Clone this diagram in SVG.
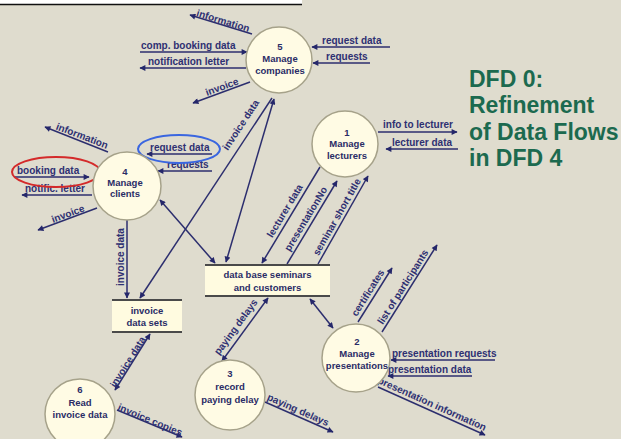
<svg xmlns="http://www.w3.org/2000/svg" width="621" height="439" viewBox="0 0 621 439">
  <style>
    .bg { fill: #dfdcce; }
    .proc circle { fill: #fffbe4; stroke: #a6a28a; stroke-width: 1.5; }
    .proc text, .store text { font-family: "Liberation Sans", Arial, sans-serif; font-weight: bold; font-size: 9.5px; fill: #2a2c66; text-anchor: middle; }
    .store rect { fill: #fffbe0; stroke: none; }
    .store line { stroke: #4a4a4a; stroke-width: 2; }
    .flow line { stroke: #2c2e6e; stroke-width: 1.5; }
    .lbl { font-family: "Liberation Sans", Arial, sans-serif; font-weight: bold; font-size: 10px; fill: #2e3072; }
    .dl { text-anchor: middle; }
    .title { font-family: "Liberation Sans", Arial, sans-serif; font-weight: bold; font-size: 23px; fill: #1c6a4f; }
  </style>
  <defs>
    <marker id="ah" viewBox="0 0 10 10" refX="9" refY="5" markerWidth="8" markerHeight="6" markerUnits="userSpaceOnUse" orient="auto-start-reverse">
      <path d="M0,0 L10,5 L0,10 z" fill="#25276a"/>
    </marker>
  </defs>

  <rect class="bg" x="0" y="0" width="621" height="439"/>
  <!-- header strip -->
  <rect x="0" y="0" width="302" height="4" fill="#ffffff"/>
  <line x1="0" y1="4.5" x2="302" y2="4.5" stroke="#111" stroke-width="1.5"/>

  <!-- title -->
  <g id="title" class="title">
    <text x="469" y="87">DFD 0:</text>
    <text x="469" y="113">Refinement</text>
    <text x="469" y="140">of Data Flows</text>
    <text x="469" y="166">in DFD 4</text>
  </g>

  <!-- data flows -->
  <g id="connectors" class="flow">
    <!-- process 5 -->
    <line x1="252" y1="34" x2="190" y2="15" marker-end="url(#ah)"/>
    <line x1="140" y1="52" x2="247" y2="52" marker-end="url(#ah)"/>
    <line x1="246" y1="68" x2="140" y2="68" marker-end="url(#ah)"/>
    <line x1="250" y1="82" x2="193" y2="103" marker-end="url(#ah)"/>
    <line x1="390" y1="47" x2="312" y2="47" marker-end="url(#ah)"/>
    <line x1="370" y1="63" x2="313" y2="63" marker-end="url(#ah)"/>
    <line x1="226" y1="262" x2="274" y2="99" marker-start="url(#ah)" marker-end="url(#ah)"/>
    <line x1="272" y1="98" x2="140" y2="298" marker-end="url(#ah)"/>
    <!-- process 4 -->
    <line x1="108" y1="152" x2="45" y2="127" marker-end="url(#ah)"/>
    <line x1="14" y1="177" x2="89" y2="177" marker-end="url(#ah)"/>
    <line x1="92" y1="195" x2="22" y2="195" marker-end="url(#ah)"/>
    <line x1="97" y1="208" x2="38" y2="230" marker-end="url(#ah)"/>
    <line x1="212" y1="154" x2="147" y2="154" marker-end="url(#ah)"/>
    <line x1="212" y1="171" x2="158" y2="171" marker-end="url(#ah)"/>
    <line x1="127" y1="220" x2="127" y2="298" marker-end="url(#ah)"/>
    <line x1="160" y1="200" x2="215" y2="263" marker-start="url(#ah)" marker-end="url(#ah)"/>
    <!-- process 1 -->
    <line x1="378" y1="132" x2="457" y2="132" marker-end="url(#ah)"/>
    <line x1="458" y1="149" x2="386" y2="149" marker-end="url(#ah)"/>
    <line x1="320" y1="167" x2="262" y2="263" marker-end="url(#ah)"/>
    <line x1="287" y1="264" x2="337" y2="181" marker-end="url(#ah)"/>
    <line x1="318" y1="264" x2="368" y2="176" marker-end="url(#ah)"/>
    <!-- process 2 -->
    <line x1="310" y1="299" x2="333" y2="328" marker-start="url(#ah)" marker-end="url(#ah)"/>
    <line x1="358" y1="322" x2="392" y2="268" marker-end="url(#ah)"/>
    <line x1="382" y1="332" x2="437" y2="245" marker-end="url(#ah)"/>
    <line x1="495" y1="360" x2="391" y2="360" marker-end="url(#ah)"/>
    <line x1="472" y1="376" x2="388" y2="376" marker-end="url(#ah)"/>
    <line x1="378" y1="387" x2="485" y2="435" marker-end="url(#ah)"/>
    <!-- process 3 -->
    <line x1="268" y1="298" x2="222" y2="361" marker-start="url(#ah)" marker-end="url(#ah)"/>
    <line x1="265" y1="402" x2="333" y2="432" marker-end="url(#ah)"/>
    <!-- process 6 -->
    <line x1="150" y1="334" x2="115" y2="390" marker-start="url(#ah)" marker-end="url(#ah)"/>
    <line x1="117" y1="410" x2="182" y2="437" marker-end="url(#ah)"/>
  </g>

  <!-- flow labels -->
  <g id="flow-labels" class="lbl">
    <text class="dl" transform="translate(223,21) rotate(17)" y="3.2">information</text>
    <text x="141" y="49">comp. booking data</text>
    <text x="148" y="65">notification letter</text>
    <text class="dl" transform="translate(222,87) rotate(-20)" y="3.2">invoice</text>
    <text x="322" y="44">request data</text>
    <text x="326" y="60">requests</text>
    <text class="dl" transform="translate(241,125) rotate(-56.6)" y="3.2">invoice data</text>

    <text class="dl" transform="translate(82,136) rotate(21)" y="3.2">information</text>
    <text x="17" y="174">booking data</text>
    <text x="25" y="192">notific. letter</text>
    <text class="dl" transform="translate(68,214) rotate(-20)" y="3.2">invoice</text>
    <text x="150" y="151">request data</text>
    <text x="167" y="168">requests</text>
    <text class="dl" transform="translate(121,257) rotate(-90)" y="3.2">invoice data</text>

    <text x="383" y="128">info to lecturer</text>
    <text x="392" y="146">lecturer data</text>
    <text class="dl" transform="translate(285,211) rotate(-58.9)" y="3.2">lecturer data</text>
    <text class="dl" transform="translate(306,219) rotate(-58.9)" y="3.2">presentationNo</text>
    <text class="dl" transform="translate(337,217) rotate(-60.4)" y="3.2">seminar short title</text>

    <text class="dl" transform="translate(368,293) rotate(-57.8)" y="3.2">certificates</text>
    <text class="dl" transform="translate(403,287) rotate(-57.7)" y="3.2">list of participants</text>
    <text x="392" y="357">presentation requests</text>
    <text x="388" y="373">presentation data</text>
    <text class="dl" transform="translate(432,404) rotate(24.2)" y="3.2">presentation information</text>

    <text class="dl" transform="translate(236,327) rotate(-53.9)" y="3.2">paying delays</text>
    <text class="dl" transform="translate(298,410) rotate(23.8)" y="3.2">paying delays</text>

    <text class="dl" transform="translate(128,362) rotate(-58)" y="3.2">invoice data</text>
    <text class="dl" transform="translate(150,420) rotate(22.6)" y="3.2">invoice copies</text>
  </g>

  <!-- highlight rings -->
  <ellipse cx="56" cy="172" rx="44" ry="15" fill="none" stroke="#d42a2a" stroke-width="2"/>
  <ellipse cx="179" cy="149" rx="41" ry="14" fill="none" stroke="#3a66e0" stroke-width="2"/>

  <!-- processes -->
  <g id="p5" class="proc">
    <circle cx="279" cy="60" r="33"/>
    <text x="280" y="50">5</text>
    <text x="280" y="62">Manage</text>
    <text x="280" y="74">companies</text>
  </g>
  <g id="p4" class="proc">
    <circle cx="127" cy="186" r="34"/>
    <text x="125" y="175">4</text>
    <text x="125" y="186">Manage</text>
    <text x="125" y="197">clients</text>
  </g>
  <g id="p1" class="proc">
    <circle cx="345" cy="144" r="33"/>
    <text x="347" y="136">1</text>
    <text x="347" y="147">Manage</text>
    <text x="347" y="159">lecturers</text>
  </g>
  <g id="p2" class="proc">
    <circle cx="356" cy="358" r="34"/>
    <text x="357" y="345">2</text>
    <text x="357" y="357">Manage</text>
    <text x="357" y="369">presentations</text>
  </g>
  <g id="p3" class="proc">
    <circle cx="230" cy="395" r="35"/>
    <text x="230" y="377">3</text>
    <text x="230" y="390">record</text>
    <text x="230" y="403">paying delay</text>
  </g>
  <g id="p6" class="proc">
    <circle cx="80" cy="414" r="35"/>
    <text x="80" y="393">6</text>
    <text x="80" y="406">Read</text>
    <text x="80" y="418">invoice data</text>
  </g>

  <!-- data stores -->
  <g id="store-db" class="store">
    <rect x="205" y="265" width="125" height="31"/>
    <line x1="205" y1="265" x2="330" y2="265"/>
    <line x1="205" y1="296" x2="330" y2="296"/>
    <text x="267.5" y="278">data base seminars</text>
    <text x="267.5" y="291">and customers</text>
  </g>
  <g id="store-invoice" class="store">
    <rect x="112" y="300" width="70" height="32"/>
    <line x1="112" y1="300" x2="182" y2="300"/>
    <line x1="112" y1="332" x2="182" y2="332"/>
    <text x="147" y="314">invoice</text>
    <text x="147" y="326">data sets</text>
  </g>
</svg>
